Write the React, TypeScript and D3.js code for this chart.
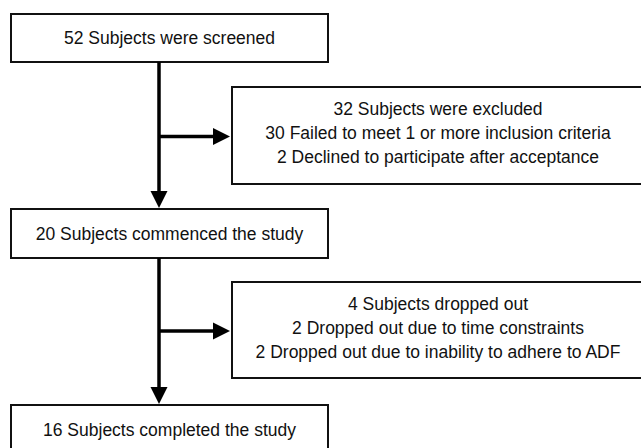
import { line } from "d3";

const WIDTH = 641
const HEIGHT = 448

// main flow boxes (left column)
const steps = [
  "52 Subjects were screened",
  "20 Subjects commenced the study",
  "16 Subjects completed the study",
]

// side boxes (exclusions / drop outs)
const exclusions = [
  [
    "32 Subjects were excluded",
    "30 Failed to meet 1 or more inclusion criteria",
    "2 Declined to participate after acceptance",
  ],
  [
    "4 Subjects dropped out",
    "2 Dropped out due to time constraints",
    "2 Dropped out due to inability to adhere to ADF",
  ],
]

// layout
const stepX = [11, 328]
const stepY = [[14, 62], [209, 258], [405, 470]]
const sideX = [232, 644]
const sideY = [[87, 184], [282, 378]]
const trunkX = 159
const HEAD = 17
const FONT_SIZE = 17.5

const path = line<[number, number]>()

export default function App() {
  const font = "'Liberation Sans', Arial, Helvetica, sans-serif"

  return (
    <svg
      width={WIDTH}
      height={HEIGHT}
      style={{ position: "absolute", left: 0, top: 0, background: "#fff" }}
    >
      <rect width={WIDTH} height={HEIGHT} fill="#fff" />

      {/* main boxes */}
      {steps.map((s, i) => {
        const [y0, y1] = stepY[i]
        return (
          <g key={s}>
            <rect
              x={stepX[0]}
              y={y0}
              width={stepX[1] - stepX[0]}
              height={y1 - y0}
              fill="#fff"
              stroke="#111"
              strokeWidth={2}
            />
            <text
              x={(stepX[0] + stepX[1]) / 2}
              y={i === 2 ? 430 : (y0 + y1) / 2}
              textAnchor="middle"
              dominantBaseline="central"
              fontFamily={font}
              fontSize={FONT_SIZE}
              fill="#111"
            >
              {s}
            </text>
          </g>
        )
      })}

      {/* side boxes */}
      {exclusions.map((lines, i) => {
        const [y0, y1] = sideY[i]
        const cy = (y0 + y1) / 2 - 3 + i
        return (
          <g key={i}>
            <rect
              x={sideX[0]}
              y={y0}
              width={sideX[1] - sideX[0]}
              height={y1 - y0}
              fill="#fff"
              stroke="#111"
              strokeWidth={2}
            />
            {lines.map((t, j) => (
              <text
                key={t}
                x={(sideX[0] + sideX[1]) / 2}
                y={cy + (j - 1) * 24}
                textAnchor="middle"
                dominantBaseline="central"
                fontFamily={font}
                fontSize={FONT_SIZE}
                fill="#111"
              >
                {t}
              </text>
            ))}
          </g>
        )
      })}

      {/* arrows */}
      {exclusions.map((_, i) => {
        const top = stepY[i][1]
        const tip = stepY[i + 1][0] - 1
        const by = sideY[i][0] + (sideY[i][1] - sideY[i][0]) / 2 + 1
        const hx = sideX[0] - 2
        return (
          <g key={"a" + i} fill="#000" stroke="#000">
            <path
              d={path([[trunkX, top], [trunkX, tip - HEAD + 2]]) ?? ""}
              strokeWidth={3.5}
              fill="none"
            />
            <path
              d={path([[trunkX, by], [hx - HEAD + 2, by]]) ?? ""}
              strokeWidth={3.5}
              fill="none"
            />
            <path
              d={`${path([
                [trunkX - HEAD / 2, tip - HEAD],
                [trunkX + HEAD / 2, tip - HEAD],
                [trunkX, tip],
              ])}Z`}
              stroke="none"
            />
            <path
              d={`${path([
                [hx - HEAD, by - HEAD / 2],
                [hx - HEAD, by + HEAD / 2],
                [hx, by],
              ])}Z`}
              stroke="none"
            />
          </g>
        )
      })}
    </svg>
  )
}
